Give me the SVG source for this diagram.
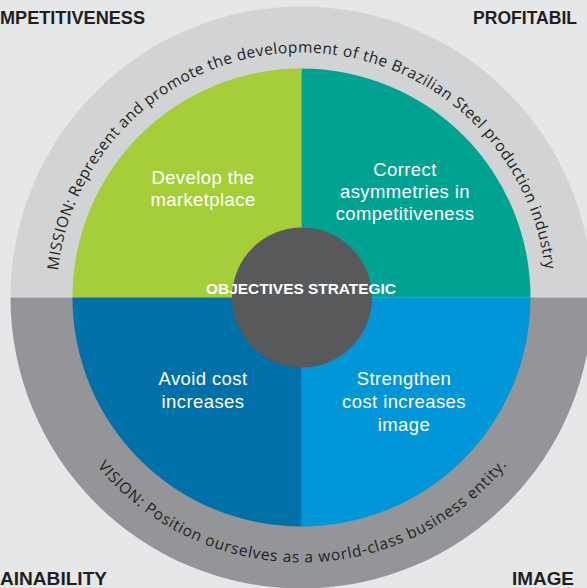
<svg xmlns="http://www.w3.org/2000/svg" xmlns:xlink="http://www.w3.org/1999/xlink" width="587" height="588" viewBox="0 0 587 588">
  <style>
    .corner { font-family: "Liberation Sans", Arial, sans-serif; font-weight: bold; font-size: 18px; fill: #231f20; }
    .ringtxt { font-family: "Open Sans", "Liberation Sans", sans-serif; font-size: 15.5px; fill: #231f20; }
    .quad { font-family: "Liberation Sans", Arial, sans-serif; font-size: 18.5px; letter-spacing: 0.4px; fill: #ffffff; text-anchor: middle; }
    .center { font-family: "Liberation Sans", Arial, sans-serif; font-weight: bold; font-size: 15px; fill: #ffffff; text-anchor: middle; }
  </style>
  <defs>
    <path id="missionArc" d="M56.5 297.5 A245 245 0 0 1 546.5 297.5"/>
    <path id="visionArc" d="M36.5 297.5 A265 265 0 0 0 566.5 297.5"/>
  </defs>
  <rect width="587" height="588" fill="#e6e7e8"/>

  <g id="ring">
    <path d="M10.5 297.5 A291 291 0 0 1 592.5 297.5 Z" fill="#d1d3d4"/>
    <path d="M10.5 297.5 A291 291 0 0 0 592.5 297.5 Z" fill="#939598"/>
  </g>

  <g id="mission">
    <text class="ringtxt"><textPath xlink:href="#missionArc" href="#missionArc" startOffset="27" textLength="714" lengthAdjust="spacing">MISSION: Represent and promote the development of the Brazilian Steel production industry</textPath></text>
  </g>
  <g id="vision">
    <text class="ringtxt"><textPath xlink:href="#visionArc" href="#visionArc" startOffset="183" textLength="468" lengthAdjust="spacing">VISION: Position ourselves as a world-class business entity.</textPath></text>
  </g>

  <g id="q-develop">
    <path d="M301.5 297.5 L72.5 297.5 A229 229 0 0 1 301.5 68.5 Z" fill="#a6ce39"/>
    <text class="quad" x="203" y="184"><tspan x="203" y="184">Develop the</tspan><tspan x="203" y="206">marketplace</tspan></text>
  </g>
  <g id="q-correct">
    <path d="M301.5 297.5 L301.5 68.5 A229 229 0 0 1 530.5 297.5 Z" fill="#00a391"/>
    <text class="quad" x="405" y="176"><tspan x="405" y="176">Correct</tspan><tspan x="405" y="198">asymmetries in</tspan><tspan x="405" y="220">competitiveness</tspan></text>
  </g>
  <g id="q-strengthen">
    <path d="M301.5 297.5 L530.5 297.5 A229 229 0 0 1 301.5 526.5 Z" fill="#0096d8"/>
    <text class="quad" x="404" y="385"><tspan x="404" y="385">Strengthen</tspan><tspan x="404" y="408">cost increases</tspan><tspan x="404" y="431">image</tspan></text>
  </g>
  <g id="q-avoid">
    <path d="M301.5 297.5 L301.5 526.5 A229 229 0 0 1 72.5 297.5 Z" fill="#0070a8"/>
    <text class="quad" x="203" y="385"><tspan x="203" y="385">Avoid cost</tspan><tspan x="203" y="408">increases</tspan></text>
  </g>

  <g id="objectives">
    <circle cx="302" cy="297.5" r="70" fill="#58595b"/>
    <text class="center" x="301" y="294" textLength="190" lengthAdjust="spacingAndGlyphs">OBJECTIVES STRATEGIC</text>
  </g>

  <g id="corners">
    <text class="corner" x="0" y="24" textLength="145" lengthAdjust="spacingAndGlyphs">MPETITIVENESS</text>
    <text class="corner" x="473" y="24" textLength="104" lengthAdjust="spacingAndGlyphs">PROFITABIL</text>
    <text class="corner" x="0" y="585" textLength="107" lengthAdjust="spacingAndGlyphs">AINABILITY</text>
    <text class="corner" x="512" y="585" textLength="62" lengthAdjust="spacingAndGlyphs">IMAGE</text>
  </g>
</svg>
